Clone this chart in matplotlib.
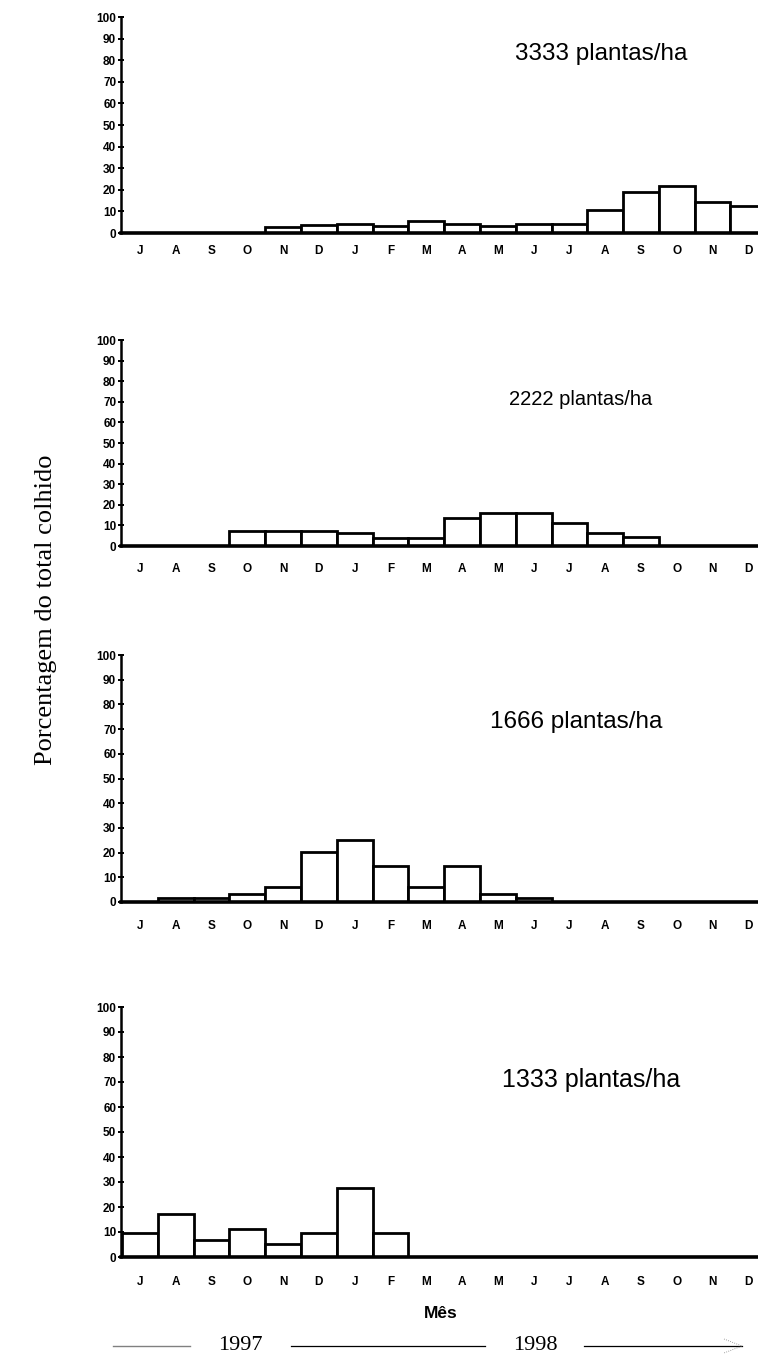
import matplotlib.pyplot as plt
from matplotlib.lines import Line2D
import numpy as np

meses = ['J', 'A', 'S', 'O', 'N', 'D', 'J', 'F', 'M', 'A', 'M', 'J', 'J', 'A', 'S', 'O', 'N', 'D']
yticks = list(range(0, 101, 10))

titulos = ['3333 plantas/ha', '2222 plantas/ha', '1666 plantas/ha', '1333 plantas/ha']
p3333 = [0, 0, 0, 0, 2.6, 3.5, 4.2, 3.1, 5.4, 4.3, 3.4, 4.2, 4.2, 10.5, 19, 21.9, 14.5, 12.3]
p2222 = [0, 0, 0, 7.4, 7.4, 7.3, 6.5, 3.9, 3.9, 13.6, 16, 16.2, 11.2, 6.5, 4.2, 0, 0, 0]
p1666 = [0, 1.8, 1.8, 3.1, 6.1, 20.1, 24.9, 14.6, 6.1, 14.6, 3.1, 1.8, 0, 0, 0, 0, 0, 0]
p1333 = [9.6, 17.1, 6.8, 11.3, 5.1, 9.6, 27.5, 9.6, 0, 0, 0, 0, 0, 0, 0, 0, 0, 0]
series = [p3333, p2222, p1666, p1333]

W, H = 758, 1359
fig = plt.figure(figsize=(W / 100, H / 100), dpi=100)

# linhas em pixels de cada painel: (y do 100, y do 0)
boxes = [(17, 233), (340, 546), (655, 902), (1007, 1257)]
title_pos = [(12.9, 83), (12.3, 71), (12.2, 73), (12.6, 71)]
title_size = [17.5, 14.5, 17.5, 18]
label_pad = [9, 12, 13, 14]
x0, x1 = 121, 758
x = np.arange(len(meses))

for i, (top, bot) in enumerate(boxes):
    ax = fig.add_axes([x0 / W, 1 - bot / H, (x1 - x0) / W, (bot - top) / H])
    ax.bar(x, series[i], width=1.0, color='white', edgecolor='black', linewidth=2)
    ax.set_xlim(-0.53, 17.27)
    ax.set_ylim(0, 100)
    ax.set_yticks(yticks)
    ax.set_xticks(x)
    ax.set_xticklabels(meses)
    for s in ['top', 'right']:
        ax.spines[s].set_visible(False)
    ax.spines['left'].set_linewidth(1.8)
    ax.spines['bottom'].set_linewidth(2.6)
    ax.tick_params(axis='y', direction='inout', length=5, width=1.4, labelsize=8.5, pad=1)
    ax.tick_params(axis='x', length=0, labelsize=8.5, pad=label_pad[i])
    for lab in ax.get_xticklabels() + ax.get_yticklabels():
        lab.set_fontweight('bold')
        lab.set_family('Liberation Sans')
    tx, ty = title_pos[i]
    ax.text(tx, ty, titulos[i], ha='center', va='center', fontsize=title_size[i],
            family='Liberation Sans')

fig.text(46 / W, 1 - 610 / H, 'Porcentagem do total colhido', rotation=90, ha='center',
         va='center', fontsize=19, family='Liberation Serif')
fig.text(441 / W, 1 - 1313 / H, 'Mês', ha='center', va='center', fontsize=12.5,
         fontweight='bold', family='Liberation Sans')
fig.text(240 / W, 1 - 1346 / H, '1997', ha='center', va='center', fontsize=16,
         family='Liberation Serif')
fig.text(535 / W, 1 - 1346 / H, '1998', ha='center', va='center', fontsize=16,
         family='Liberation Serif')

yl = 1 - 1346 / H
fig.add_artist(Line2D([113 / W, 190 / W], [yl, yl], color='gray', lw=1))
fig.add_artist(Line2D([291 / W, 485 / W], [yl, yl], color='black', lw=0.9))
fig.add_artist(Line2D([584 / W, 742 / W], [yl, yl], color='black', lw=0.9))
fig.add_artist(Line2D([724 / W, 742 / W, 724 / W], [yl + 7 / H, yl, yl - 7 / H],
                      color='gray', lw=0.6, linestyle=':'))

fig.savefig('out.png', dpi=100)
